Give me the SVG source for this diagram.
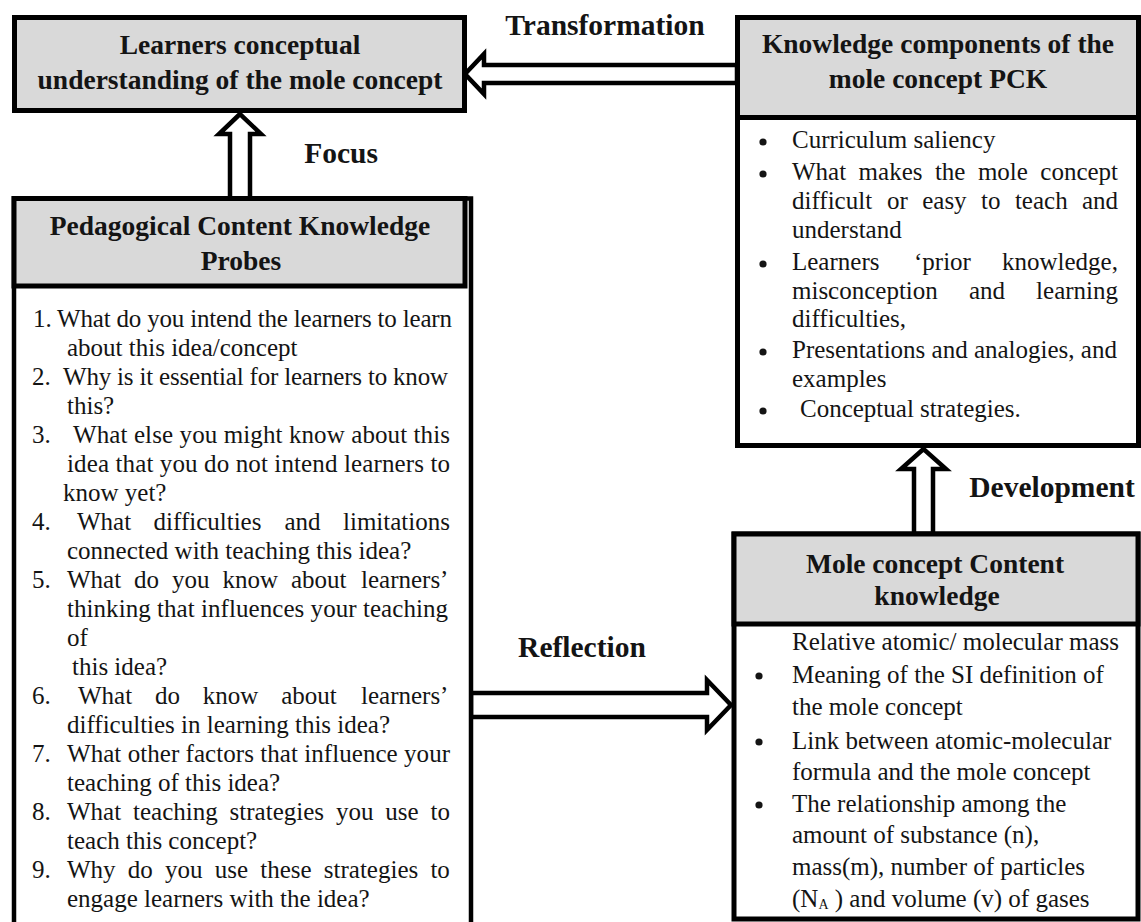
<svg xmlns="http://www.w3.org/2000/svg" width="1141" height="922" viewBox="0 0 1141 922">
<style>
.box{fill:#fff;stroke:#000;stroke-width:5}
.hdr{fill:#d9d9d9;stroke:#000;stroke-width:5}
.arr{fill:#fff;stroke:#000;stroke-width:4.5;stroke-linejoin:miter}
.bul{fill:#141414}
text{font-family:"Liberation Serif","Times New Roman",serif;fill:#141414}
.h{font-weight:bold;font-size:27.5px;text-anchor:middle}
.lbl{font-weight:bold;font-size:29.5px;text-anchor:middle}
.bd{font-size:25px}
</style>
<rect width="1141" height="922" fill="#fff"/>
<g id="connectors">
  <polygon class="arr" points="465,74 484,54 484,65 737,65 737,83 484,83 484,94"/>
  <polygon class="arr" points="240,114 219,134 230,134 230,199 250,199 250,134 261,134"/>
  <polygon class="arr" points="923.5,449 901,469 914,469 914,534 933,534 933,469 946,469"/>
  <polygon class="arr" points="471,693 707,693 707,680 731,705 707,730 707,717 471,717"/>
  <text class="lbl" x="605" y="35">Transformation</text>
  <text class="lbl" x="341" y="163">Focus</text>
  <text class="lbl" x="1052" y="497">Development</text>
  <text class="lbl" x="582" y="657">Reflection</text>
</g>
<g id="node-learners">
  <rect class="hdr" x="14.5" y="17.5" width="450" height="93"/>
  <text class="h" x="240" y="54">Learners conceptual</text>
  <text class="h" x="240" y="89">understanding of the mole concept</text>
</g>
<g id="node-pck-components">
  <rect class="box" x="737.5" y="17.5" width="401" height="428"/>
  <rect class="hdr" x="737.5" y="17.5" width="401" height="100"/>
  <text class="h" x="938" y="53">Knowledge components of the</text>
  <text class="h" x="938" y="88">mole concept PCK</text>
  <g class="bul">
    <circle cx="763" cy="142" r="3.6"/>
    <circle cx="763" cy="174" r="3.6"/>
    <circle cx="763" cy="264" r="3.6"/>
    <circle cx="763" cy="352" r="3.6"/>
    <circle cx="763" cy="411" r="3.6"/>
  </g>
  <g class="bd">
    <text x="792" y="148">Curriculum saliency</text>
    <text y="180"><tspan x="792">What</tspan><tspan x="858.6">makes</tspan><tspan x="934.9">the</tspan><tspan x="977.9">mole</tspan><tspan x="1040.3">concept</tspan></text>
    <text y="209"><tspan x="792">difficult</tspan><tspan x="887">or</tspan><tspan x="922.2">easy</tspan><tspan x="981">to</tspan><tspan x="1014.9">teach</tspan><tspan x="1082">and</tspan></text>
    <text x="792" y="238">understand</text>
    <text y="270"><tspan x="792">Learners</tspan><tspan x="914">‘prior</tspan><tspan x="1002">knowledge,</tspan></text>
    <text y="299"><tspan x="792">misconception</tspan><tspan x="968.9">and</tspan><tspan x="1036.1">learning</tspan></text>
    <text x="792" y="327">difficulties,</text>
    <text x="792" y="358">Presentations and analogies, and</text>
    <text x="792" y="387">examples</text>
    <text x="800" y="417">Conceptual strategies.</text>
  </g>
</g>
<g id="node-pck-probes">
  <rect x="14" y="198.5" width="457" height="740" fill="#fff" stroke="#000" stroke-width="4.5"/>
  <rect class="hdr" x="14" y="198.5" width="451" height="87.5"/>
  <text class="h" x="240" y="235">Pedagogical Content Knowledge</text>
  <text class="h" x="241" y="270">Probes</text>
  <g class="bd">
    <text x="33" y="327">1.</text><text x="57" y="327" textLength="395" lengthAdjust="spacing">What do you intend the learners to learn</text>
    <text x="67" y="356">about this idea/concept</text>
    <text x="32" y="385">2.</text><text x="63" y="385" textLength="385" lengthAdjust="spacing">Why is it essential for learners to know</text>
    <text x="67" y="414">this?</text>
    <text x="32" y="443">3.</text><text x="73" y="443" textLength="377" lengthAdjust="spacing">What else you might know about this</text>
    <text x="67" y="472" textLength="383" lengthAdjust="spacing">idea that you do not intend learners to</text>
    <text x="63" y="501">know yet?</text>
    <text x="32" y="530">4.</text><text y="530"><tspan x="77">What</tspan><tspan x="153.6">difficulties</tspan><tspan x="284.4">and</tspan><tspan x="343">limitations</tspan></text>
    <text x="67" y="559">connected with teaching this idea?</text>
    <text x="32" y="588">5.</text><text y="588"><tspan x="67">What</tspan><tspan x="134.1">do</tspan><tspan x="172.1">you</tspan><tspan x="222.5">know</tspan><tspan x="291">about</tspan><tspan x="361">learners’</tspan></text>
    <text x="67" y="617" textLength="381" lengthAdjust="spacing">thinking that influences your teaching</text>
    <text x="67" y="646">of</text>
    <text x="72" y="675">this idea?</text>
    <text x="32" y="704">6.</text><text y="704"><tspan x="78">What</tspan><tspan x="155">do</tspan><tspan x="202.8">know</tspan><tspan x="281.2">about</tspan><tspan x="361">learners’</tspan></text>
    <text x="67" y="733">difficulties in learning this idea?</text>
    <text x="32" y="762">7.</text><text x="67" y="762" textLength="383" lengthAdjust="spacing">What other factors that influence your</text>
    <text x="67" y="791">teaching of this idea?</text>
    <text x="32" y="820">8.</text><text y="820"><tspan x="67">What</tspan><tspan x="133">teaching</tspan><tspan x="229.6">strategies</tspan><tspan x="335.9">you</tspan><tspan x="385.3">use</tspan><tspan x="430.5">to</tspan></text>
    <text x="67" y="849">teach this concept?</text>
    <text x="32" y="878">9.</text><text y="878"><tspan x="67">Why</tspan><tspan x="127.8">do</tspan><tspan x="165">you</tspan><tspan x="214.7">use</tspan><tspan x="260.2">these</tspan><tspan x="323.8">strategies</tspan><tspan x="430.4">to</tspan></text>
    <text x="67" y="907">engage learners with the idea?</text>
  </g>
</g>
<g id="node-content-knowledge">
  <rect class="box" x="734" y="534" width="404" height="385" stroke-width="6"/>
  <rect class="hdr" x="734" y="534" width="404" height="90" stroke-width="6"/>
  <text class="h" x="935" y="573">Mole concept Content</text>
  <text class="h" x="937" y="605">knowledge</text>
  <g class="bul">
    <circle cx="759" cy="676" r="3.6"/>
    <circle cx="759" cy="742" r="3.6"/>
    <circle cx="759" cy="805" r="3.6"/>
  </g>
  <g class="bd">
    <text x="792" y="650">Relative atomic/ molecular mass</text>
    <text x="792" y="683">Meaning of the SI definition of</text>
    <text x="792" y="715">the mole concept</text>
    <text x="792" y="749">Link between atomic-molecular</text>
    <text x="792" y="780">formula and the mole concept</text>
    <text x="792" y="812">The relationship among the</text>
    <text x="792" y="843">amount of substance (n),</text>
    <text x="792" y="875">mass(m), number of particles</text>
    <text x="792" y="907">(N<tspan font-size="14" dy="2">A</tspan><tspan dy="-2"> ) and volume (v) of gases</tspan></text>
  </g>
</g>
</svg>
